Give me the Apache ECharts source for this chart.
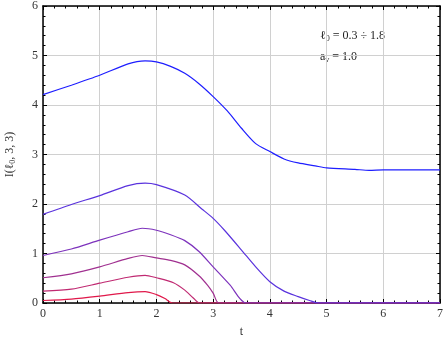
<!DOCTYPE html>
<html>
<head>
    <meta charset="utf-8">
    <title>I(l0, 3, 3)</title>
    <script src="https://cdn.jsdelivr.net/npm/echarts@6/dist/echarts.min.js"></script>
    <style>
        html, body { margin: 0; padding: 0; background: #fff; }
        #main { width: 443px; height: 337px; }
    </style>
</head>
<body>
<div id="main"></div>
<script type="text/javascript">
    // curves for l0 = 0.3 ... 1.8 as [t, I]
    const curve03 = [[0, 0.05], [0.5, 0.08], [1, 0.14], [1.5, 0.21], [1.8, 0.23], [2, 0.17], [2.15, 0.09], [2.28, 0], [7, 0]];
    const curve06 = [[0, 0.24], [0.5, 0.28], [1, 0.40], [1.5, 0.52], [1.8, 0.56], [2, 0.51], [2.3, 0.41], [2.5, 0.26], [2.65, 0.10], [2.76, 0], [7, 0]];
    const curve09 = [[0, 0.51], [0.5, 0.59], [1, 0.73], [1.5, 0.90], [1.75, 0.96], [2, 0.91], [2.25, 0.86], [2.5, 0.77], [2.75, 0.55], [2.9, 0.36], [3, 0.20], [3.1, 0], [7, 0]];
    const curve12 = [[0, 0.96], [0.5, 1.09], [1, 1.27], [1.5, 1.44], [1.75, 1.51], [2, 1.47], [2.25, 1.38], [2.5, 1.26], [2.75, 1.04], [3, 0.73], [3.3, 0.36], [3.58, 0], [7, 0]];
    const curve15 = [[0, 1.79], [0.5, 1.99], [1, 2.17], [1.5, 2.37], [1.8, 2.42], [2, 2.39], [2.5, 2.18], [2.8, 1.90], [3, 1.71], [3.2, 1.47], [3.5, 1.07], [3.75, 0.73], [4, 0.43], [4.25, 0.24], [4.5, 0.13], [4.7, 0.05], [4.85, 0], [7, 0]];
    const curve18 = [[0, 4.21], [0.5, 4.40], [1, 4.60], [1.5, 4.83], [1.8, 4.89], [2, 4.87], [2.25, 4.78], [2.5, 4.64], [2.75, 4.43], [3, 4.17], [3.25, 3.88], [3.5, 3.53], [3.75, 3.22], [4, 3.06], [4.25, 2.91], [4.5, 2.83], [4.8, 2.77], [5, 2.73], [5.5, 2.70], [5.75, 2.68], [6, 2.69], [6.5, 2.69], [7, 2.69]];

    const curves = [curve03, curve06, curve09, curve12, curve15, curve18];
    const curveNames = ['0.3', '0.6', '0.9', '1.2', '1.5', '1.8'];
    const curveColors = ['#e0184a', '#c02a72', '#a03090', '#7d32bc', '#5a33dd', '#1e1eff'];

    const xTicks = [0, 1, 2, 3, 4, 5, 6, 7];
    const yTicks = [0, 1, 2, 3, 4, 5, 6];

    var myChart = echarts.init(document.getElementById('main'));

    const serif = "'Liberation Serif', 'DejaVu Serif', serif";

    // frame axes (Mathematica style: ticks inside on all four sides)
    function frameAxis(extra) {
        return Object.assign({
            type: 'value',
            interval: 1,
            axisLine: { show: true, onZero: false, lineStyle: { color: '#000', width: 1.5 } },
            axisTick: { show: true, inside: true, length: 4, lineStyle: { color: '#000', width: 1 } },
            minorTick: { show: true, splitNumber: 5, length: 2.5, lineStyle: { color: '#000', width: 1 } },
            splitLine: { show: false },
            axisLabel: { show: false }
        }, extra);
    }

    const subStyle = { fontFamily: serif, fontSize: 8, color: '#222', verticalAlign: 'bottom', lineHeight: 10 };

    var option = {
        animation: false,
        grid: { left: 43, right: 3, top: 6, bottom: 34, containLabel: false, outerBoundsMode: 'none' },
        xAxis: [
            frameAxis({
                min: 0, max: 7, position: 'bottom',
                name: 't', nameLocation: 'middle', nameGap: 23,
                nameTextStyle: { fontFamily: serif, fontSize: 12, color: '#333' },
                splitLine: { show: true, lineStyle: { color: '#d0d0d0', width: 1 } },
                axisLabel: {
                    show: true, margin: 5, fontFamily: serif, fontSize: 12, color: '#333',
                    formatter: v => xTicks.includes(v) ? String(v) : ''
                }
            }),
            frameAxis({ min: 0, max: 7, position: 'top' })
        ],
        yAxis: [
            frameAxis({
                min: 0, max: 6, position: 'left',
                name: 'I(ℓ{sub|0}, 3, 3)', nameLocation: 'middle', nameGap: 26, nameRotate: 90,
                nameTextStyle: {
                    fontFamily: serif, fontSize: 12, color: '#333', lineHeight: 14,
                    rich: { sub: Object.assign({}, subStyle, { color: '#333' }) }
                },
                splitLine: { show: true, lineStyle: { color: '#d0d0d0', width: 1 } },
                axisLabel: {
                    show: true, margin: 5, fontFamily: serif, fontSize: 12, color: '#333',
                    formatter: v => yTicks.includes(v) ? String(v) : ''
                }
            }),
            frameAxis({ min: 0, max: 6, position: 'right' })
        ],
        graphic: [
            {
                type: 'text', left: 320, top: 29,
                style: {
                    text: 'ℓ{sub|0} = 0.3 ÷ 1.8',
                    font: '12px ' + serif, fill: '#222', lineHeight: 14,
                    rich: { sub: subStyle }
                }
            },
            {
                type: 'text', left: 320, top: 50,
                style: {
                    text: 'a{sub|v} = 1.0',
                    font: '12px ' + serif, fill: '#222', lineHeight: 14,
                    rich: { sub: subStyle }
                }
            }
        ],
        series: curves.map((c, i) => ({
            name: curveNames[i],
            type: 'line',
            data: c,
            showSymbol: false,
            smooth: 0.25,
            clip: true,
            lineStyle: { color: curveColors[i], width: 1.2 },
            itemStyle: { color: curveColors[i] },
            z: 3
        }))
    };

    myChart.setOption(option);
</script>
</body>
</html>
